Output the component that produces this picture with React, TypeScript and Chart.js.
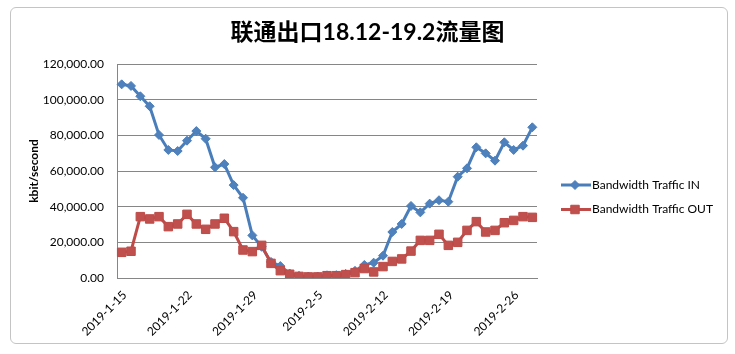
import React, { useEffect, useRef } from "react";
import { Chart, registerables } from "chart.js";

Chart.register(...registerables);

const categories = [
  "2019-1-15", "2019-1-16", "2019-1-17", "2019-1-18", "2019-1-19", "2019-1-20", "2019-1-21",
  "2019-1-22", "2019-1-23", "2019-1-24", "2019-1-25", "2019-1-26", "2019-1-27", "2019-1-28",
  "2019-1-29", "2019-1-30", "2019-1-31", "2019-2-1", "2019-2-2", "2019-2-3", "2019-2-4",
  "2019-2-5", "2019-2-6", "2019-2-7", "2019-2-8", "2019-2-9", "2019-2-10", "2019-2-11",
  "2019-2-12", "2019-2-13", "2019-2-14", "2019-2-15", "2019-2-16", "2019-2-17", "2019-2-18",
  "2019-2-19", "2019-2-20", "2019-2-21", "2019-2-22", "2019-2-23", "2019-2-24", "2019-2-25",
  "2019-2-26", "2019-2-27", "2019-2-28",
];

const trafficIn = [
  108600, 107700, 101900, 96300, 80200, 71800, 71200, 77000, 82400, 78100,
  62100, 63900, 52100, 45000, 23900, 17500, 9000, 6700, 2500, 1200,
  800, 800, 1500, 1600, 2300, 4000, 7300, 8600, 12500, 25800,
  30300, 40400, 36800, 41700, 43600, 42800, 56800, 61500, 73300, 69900,
  65800, 76100, 71800, 74200, 84500,
];

const trafficOut = [
  14400, 15000, 34400, 33100, 34400, 28800, 30300, 35700, 30300, 27300,
  30300, 33500, 26000, 15700, 14800, 18300, 8200, 4100, 2100, 900,
  600, 600, 1300, 1300, 1900, 3000, 5300, 3400, 6400, 9300,
  10700, 15100, 21100, 21100, 24500, 18300, 20000, 26700, 31600, 25800,
  26700, 31000, 32300, 34400, 34000,
];

const seriesNames = ["Bandwidth Traffic IN", "Bandwidth Traffic OUT"];
const titleText = "联通出口18.12-19.2流量图";
const yAxisTitle = "kbit/second";
const yMin = 0;
const yMax = 120000;
const yStep = 20000;
const labelEvery = 7;

const BLUE_LINE = "#4A7EBB";
const BLUE_FILL = "#4F81BD";
const RED_LINE = "#BE4B48";
const RED_FILL = "#C0504D";
const GRID = "#868686";
const FONT = "Lato, 'Noto Sans', sans-serif";

const legendPlugin = {
  id: "excelLegend",
  afterDraw(chart: any) {
    const { ctx, chartArea } = chart;
    const x0 = chartArea.right + 24;
    const y0 = chartArea.top + 121;
    chart.data.datasets.forEach((ds: any, i: number) => {
      const y = y0 + i * 24.5;
      ctx.save();
      ctx.strokeStyle = ds.borderColor;
      ctx.lineWidth = 3;
      ctx.beginPath();
      ctx.moveTo(x0, y);
      ctx.lineTo(x0 + 30, y);
      ctx.stroke();
      ctx.fillStyle = ds.pointBackgroundColor;
      ctx.strokeStyle = ds.pointBorderColor;
      ctx.lineWidth = 1;
      const mx = x0 + 14;
      ctx.beginPath();
      if (ds.pointStyle === "rectRot") {
        const r = ds.pointRadius;
        ctx.moveTo(mx, y - r);
        ctx.lineTo(mx + r, y);
        ctx.lineTo(mx, y + r);
        ctx.lineTo(mx - r, y);
        ctx.closePath();
      } else {
        const s = ds.pointRadius * Math.SQRT1_2;
        ctx.rect(mx - s, y - s, 2 * s, 2 * s);
      }
      ctx.fill();
      ctx.stroke();
      ctx.fillStyle = "#000";
      ctx.font = `12px ${FONT}`;
      ctx.textBaseline = "middle";
      ctx.textAlign = "left";
      ctx.fillText(ds.label, x0 + 31, y);
      ctx.restore();
    });
  },
};

export default function App() {
  const ref = useRef<HTMLCanvasElement>(null);

  useEffect(() => {
    if (!ref.current) return;
    const chart = new Chart(ref.current, {
      type: "line",
      data: {
        labels: categories,
        datasets: [
          {
            label: seriesNames[0],
            data: trafficIn,
            borderColor: BLUE_LINE,
            backgroundColor: BLUE_FILL,
            borderWidth: 3,
            pointStyle: "rectRot",
            pointRadius: 4.5,
            pointBackgroundColor: BLUE_FILL,
            pointBorderColor: BLUE_LINE,
            pointBorderWidth: 1,
            tension: 0,
            order: 1,
          },
          {
            label: seriesNames[1],
            data: trafficOut,
            borderColor: RED_LINE,
            backgroundColor: RED_FILL,
            borderWidth: 3,
            pointStyle: "rect",
            pointRadius: 6,
            pointBackgroundColor: RED_FILL,
            pointBorderColor: RED_LINE,
            pointBorderWidth: 1,
            tension: 0,
            order: 0,
          },
        ],
      },
      options: {
        responsive: false,
        animation: false,
        devicePixelRatio: 1,
        layout: { padding: 0 },
        plugins: {
          legend: { display: false },
          tooltip: { enabled: false },
          title: {
            display: true,
            text: titleText,
            color: "#000",
            font: { family: `Lato, 'Noto Sans CJK SC', sans-serif`, size: 23, weight: "bold" },
            padding: { top: 19.2, bottom: 17.2 },
          },
        },
        scales: {
          x: {
            offset: true,
            grid: { display: false, drawTicks: false },
            border: { display: true, color: GRID, width: 1 },
            ticks: {
              autoSkip: false,
              maxRotation: 45,
              minRotation: 45,
              padding: 10,
              labelOffset: 3,
              color: "#000",
              font: { family: FONT, size: 12 },
              callback: (_v: any, i: number) => (i % labelEvery === 0 ? categories[i] : ""),
            },
            afterFit: (s: any) => {
              s.height = 76;
            },
          },
          y: {
            position: "left",
            min: yMin,
            max: yMax,
            grid: { color: GRID, lineWidth: 1, drawTicks: false },
            border: { display: true, color: GRID, width: 1 },
            ticks: {
              stepSize: yStep,
              padding: 13,
              color: "#000",
              font: { family: FONT, size: 12 },
              callback: (v: any) =>
                Number(v).toLocaleString("en-US", { minimumFractionDigits: 2, maximumFractionDigits: 2 }),
            },
            title: {
              display: true,
              text: yAxisTitle,
              color: "#000",
              font: { family: FONT, size: 12, weight: "bold" },
              padding: { top: 27, bottom: 0 },
            },
            afterFit: (s: any) => {
              s.width = 117;
            },
          },
          yR: {
            position: "right",
            display: true,
            grid: { display: false, drawTicks: false },
            border: { display: false },
            ticks: { display: false },
            afterFit: (s: any) => {
              s.width = 198;
            },
          },
        },
      },
      plugins: [legendPlugin],
    } as any);
    return () => chart.destroy();
  }, []);

  return (
    <div style={{ position: "fixed", left: 0, top: 0, width: 735, height: 354, background: "#fff" }}>
      <canvas ref={ref} width={735} height={354} style={{ position: "absolute", left: 0, top: 0 }} />
      <div
        style={{
          position: "absolute",
          left: 10,
          top: 7,
          width: 716,
          height: 335,
          border: "1px solid #c4c4c4",
          borderRadius: 6,
          pointerEvents: "none",
        }}
      />
    </div>
  );
}
